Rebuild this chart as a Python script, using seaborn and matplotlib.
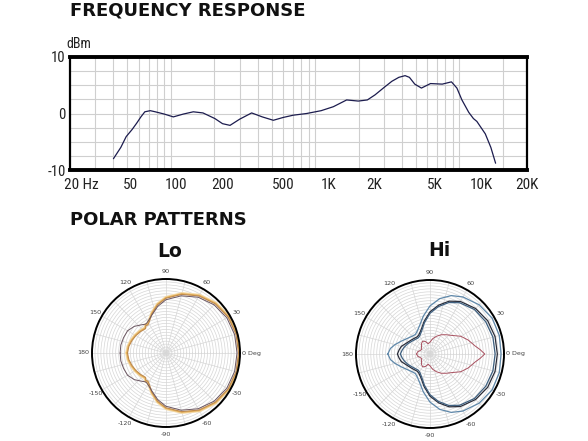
import numpy as np
import pandas as pd
import matplotlib
matplotlib.use("Agg")
import matplotlib.pyplot as plt
import seaborn as sns

# ---------------- data ----------------
freq_hz = [40, 45, 49, 54, 58, 62, 66, 72, 78, 90, 104, 122, 143, 167, 202, 228, 257,
           300, 363, 430, 513, 600, 705, 873, 1100, 1336, 1653, 1990, 2300, 2600, 3000,
           3400, 3800, 4200, 4500, 4900, 5450, 6300, 7600, 8800, 9600, 10400, 11600,
           12500, 13200, 15100, 16500, 17800]
level_db = [-8.0, -6.0, -4.1, -2.8, -1.7, -0.6, 0.3, 0.5, 0.3, -0.1, -0.6, -0.1, 0.3, 0.1,
            -0.9, -1.8, -2.1, -1.0, 0.1, -0.6, -1.2, -0.7, -0.3, 0.0, 0.5, 1.2, 2.4, 2.2,
            2.4, 3.3, 4.6, 5.7, 6.4, 6.7, 6.4, 5.2, 4.5, 5.3, 5.2, 5.6, 4.5, 2.4, 0.2,
            -0.9, -1.4, -3.6, -6.0, -8.8]

freq_tick_values = [50, 100, 200, 500, 1000, 2000, 5000, 10000, 20000]
freq_tick_labels = ["50", "100", "200", "500", "1K", "2K", "5K", "10K", "20K"]
first_freq_label = "20 Hz"
db_ticks = [-10, 0, 10]
db_tick_labels = ["-10", "0", "10"]

# polar patterns (half patterns 0..180 deg, symmetric)
lo_theta = [0, 15, 30, 45, 60, 75, 90, 100, 110, 118, 123, 126, 130, 140, 150, 160, 170, 180]
lo_dark = [0.96, 0.96, 0.95, 0.92, 0.87, 0.80, 0.72, 0.64, 0.55, 0.50, 0.48, 0.48, 0.50,
           0.56, 0.60, 0.61, 0.62, 0.62]
lo_tan = [0.98, 0.98, 0.97, 0.94, 0.89, 0.82, 0.74, 0.66, 0.56, 0.48, 0.45, 0.46, 0.43,
          0.45, 0.47, 0.49, 0.51, 0.52]
lo_gold = [0.99, 0.99, 0.98, 0.95, 0.90, 0.83, 0.75, 0.67, 0.57, 0.49, 0.46, 0.47, 0.44,
           0.46, 0.48, 0.50, 0.52, 0.53]
lo_light = [1.00, 1.00, 0.99, 0.96, 0.91, 0.84, 0.76, 0.68, 0.58, 0.50, 0.47, 0.48, 0.45,
            0.47, 0.49, 0.51, 0.53, 0.54]

hi_theta = [0, 15, 30, 45, 60, 70, 80, 90, 100, 110, 120, 127, 135, 145, 155, 165, 172, 180]
hi_outer = [0.96, 0.97, 0.97, 0.94, 0.89, 0.84, 0.76, 0.65, 0.52, 0.41, 0.35, 0.33, 0.34,
            0.37, 0.42, 0.49, 0.54, 0.57]
hi_mid = [0.91, 0.91, 0.90, 0.87, 0.82, 0.76, 0.67, 0.57, 0.45, 0.35, 0.30, 0.29, 0.30,
          0.32, 0.35, 0.40, 0.42, 0.44]
hi_inner = [0.88, 0.88, 0.87, 0.85, 0.80, 0.74, 0.65, 0.55, 0.43, 0.33, 0.28, 0.27, 0.28,
            0.30, 0.33, 0.36, 0.38, 0.40]
red_theta = [0, 5, 10, 20, 30, 40, 50, 60, 70, 80, 90, 100, 110, 120, 130, 140, 150, 160,
             170, 180]
hi_red = [0.74, 0.68, 0.62, 0.55, 0.48, 0.39, 0.34, 0.30, 0.255, 0.21, 0.16, 0.14, 0.18,
          0.20, 0.18, 0.15, 0.13, 0.14, 0.17, 0.18]

polar_label_angles = [0, 30, 60, 90, 120, 150, 180, -150, -120, -90, -60, -30]
polar_label_texts = ["0 Deg", "30", "60", "90", "120", "150", "180", "-150", "-120",
                     "-90", "-60", "-30"]

# ---------------- style ----------------
sns.set_style("white")
plt.rcParams["font.family"] = ["DejaVu Sans"]
narrow = ["Roboto Condensed", "Liberation Sans Narrow", "Liberation Sans", "DejaVu Sans"]

W, H = 588, 441
fig = plt.figure(figsize=(W / 100, H / 100), dpi=100)

def px_box(x0, y0, x1, y1):
    return [x0 / W, 1 - y1 / H, (x1 - x0) / W, (y1 - y0) / H]

# ---------------- headings ----------------
fig.text(70 / W, 1 - 15.7 / H, "FREQUENCY RESPONSE", fontsize=13.0, fontweight="heavy",
         color="#111111", ha="left", va="baseline")
fig.text(70 / W, 1 - 224.5 / H, "POLAR PATTERNS", fontsize=13.0, fontweight="heavy",
         color="#111111", ha="left", va="baseline")

# ---------------- frequency response ----------------
ax = fig.add_axes(px_box(70, 57, 527, 170))
df = pd.DataFrame({"freq": freq_hz, "db": level_db})
sns.lineplot(data=df, x="freq", y="db", ax=ax, color="#1c1c4e", linewidth=0.9,
             estimator=None, sort=False)
ax.set_xscale("log")
x_hi = 20 * 10 ** (457 / 144.3)   # grid spans 20 Hz..20 kHz over 433 of 457 px
ax.set_xlim(20, x_hi)
ax.set_ylim(-10, 10)
# label scale spans the full box width
k = (457 / 3) / 144.3
ax.set_xticks([20 * (v / 20) ** k for v in freq_tick_values])
ax.set_xticklabels(freq_tick_labels, family=narrow, fontsize=11, color="#222222")
ax.xaxis.set_minor_locator(matplotlib.ticker.NullLocator())
ax.set_yticks(db_ticks)
ax.set_yticklabels(db_tick_labels, family=narrow, fontsize=10.5, color="#222222")
ax.tick_params(which="both", length=0)
ax.tick_params(axis="x", pad=5.5)
ax.tick_params(axis="y", pad=3)
ax.grid(False)
for fv in [f * m for f in (10, 100, 1000, 10000) for m in range(1, 10)]:
    if 20 < fv <= 20000:
        ax.axvline(fv, color="#cfcfcf", lw=0.8, zorder=0)
for yv in np.arange(-7.5, 10, 2.5):
    ax.axhline(yv, color="#cfcfcf", lw=0.8, zorder=0)
ax.set_xlabel("")
ax.set_ylabel("")
for side in ("top", "bottom"):
    ax.spines[side].set_linewidth(2.8)
    ax.spines[side].set_color("black")
for side in ("left", "right"):
    ax.spines[side].set_linewidth(1.6)
    ax.spines[side].set_color("black")
ax.annotate(first_freq_label, xy=(20, 0), xycoords=("data", "axes fraction"),
            xytext=(-4.3, -5.5), textcoords="offset points", ha="left", va="top",
            family=narrow, fontsize=11, color="#222222")
ax.text(-0.007, 1.08, "dBm", transform=ax.transAxes, ha="left", va="baseline",
        family=narrow, fontsize=10, color="#222222")

# ---------------- polar patterns ----------------
def mirror(theta, r):
    t = np.asarray(theta, float)
    rr = np.asarray(r, float)
    full_t = np.concatenate([-t[::-1], t[1:]])
    full_r = np.concatenate([rr[::-1], rr[1:]])
    return np.deg2rad(full_t), full_r

def setup_polar(pax):
    pax.set_ylim(0, 1.0)
    pax.set_xticks(np.deg2rad(np.arange(0, 360, 15)))
    pax.set_xticklabels([])
    pax.set_yticks(np.linspace(0.04, 0.96, 24))
    pax.set_yticklabels([])
    pax.grid(True, color="#d6d6d6", lw=0.5)
    pax.spines["polar"].set_linewidth(1.4)
    pax.spines["polar"].set_color("black")
    pax.set_xlabel("")
    pax.set_ylabel("")
    for ang, txt in zip(polar_label_angles, polar_label_texts):
        a = np.deg2rad(ang)
        if ang == 0:
            pax.text(a, 1.03, txt, ha="left", va="center", fontsize=4.6, color="#444444")
        elif ang == 180:
            pax.text(a, 1.04, txt, ha="right", va="center", fontsize=4.6, color="#444444")
        else:
            pax.text(a, 1.10, txt, ha="center", va="center", fontsize=4.6, color="#444444")

def draw(pax, theta, r, color, lw):
    t, rr = mirror(theta, r)
    sns.lineplot(x=t, y=rr, ax=pax, color=color, linewidth=lw, estimator=None, sort=False)

ax_lo = fig.add_axes(px_box(166 - 74, 353 - 74, 166 + 74, 353 + 74), projection="polar")
setup_polar(ax_lo)
draw(ax_lo, lo_theta, lo_light, "#f4d9a6", 1.3)
draw(ax_lo, lo_theta, lo_gold, "#e6b45e", 0.9)
draw(ax_lo, lo_theta, lo_tan, "#c08a4c", 0.8)
draw(ax_lo, lo_theta, lo_dark, "#6a5560", 0.7)
ax_lo.set_ylim(0, 1.0)
fig.text(170 / W, 1 - 257.3 / H, "Lo", fontsize=13.5, fontweight="bold", ha="center",
         va="baseline", color="#111111")

ax_hi = fig.add_axes(px_box(430 - 74, 354 - 74, 430 + 74, 354 + 74), projection="polar")
setup_polar(ax_hi)
draw(ax_hi, hi_theta, hi_outer, "#5f88aa", 0.9)
draw(ax_hi, hi_theta, hi_mid, "#2a2d3a", 0.9)
draw(ax_hi, hi_theta, hi_inner, "#3e6080", 0.9)
draw(ax_hi, red_theta, hi_red, "#a8505f", 0.7)
ax_hi.set_ylim(0, 1.0)
fig.text(439 / W, 1 - 256 / H, "Hi", fontsize=13.5, fontweight="bold", ha="center",
         va="baseline", color="#111111")

fig.savefig("out.png", dpi=100)
